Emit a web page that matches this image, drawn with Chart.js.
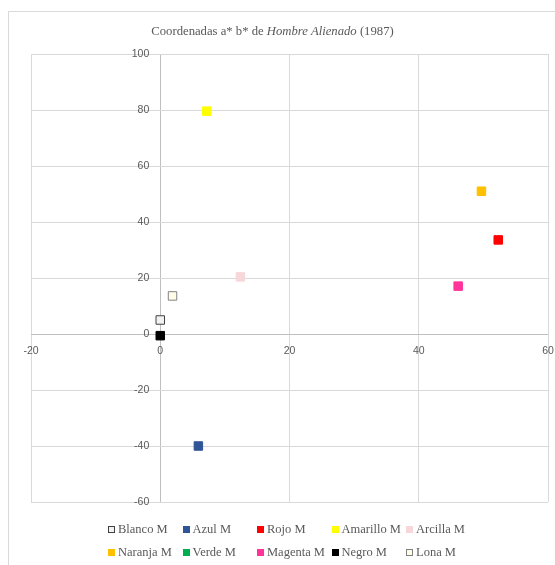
<!DOCTYPE html>
<html><head><meta charset="utf-8">
<script src="https://cdn.jsdelivr.net/npm/chart.js@4/dist/chart.umd.min.js"></script>
<style>
html,body{margin:0;padding:0;background:#fff;}
#wrap{position:relative;width:555px;height:565px;overflow:hidden;}
#frame{position:absolute;left:8px;top:11px;width:600px;height:600px;border:1px solid #D9D9D9;box-sizing:border-box;}
#c{position:absolute;left:0;top:0;}
#title{position:absolute;left:0;top:23px;width:545px;text-align:center;font-family:"Liberation Serif",serif;font-size:12.7px;color:#595959;line-height:16px;white-space:nowrap;}
.leg{position:absolute;display:flex;align-items:center;height:14px;font-family:"Liberation Serif",serif;font-size:12.5px;color:#595959;white-space:nowrap;}
.leg .box{display:inline-block;width:7px;height:7px;box-sizing:border-box;margin-right:3px;border-style:solid;border-width:1px;}
</style>
</head><body>
<div id="wrap">
  <div id="frame"></div>
  <canvas id="c" width="555" height="565"></canvas>
  <div id="title">Coordenadas a* b* de <i>Hombre Alienado</i> (1987)</div>
  <div id="legend"></div>
</div>
<script>
// ---- data ----
const seriesNames = ["Blanco M","Azul M","Rojo M","Amarillo M","Arcilla M","Naranja M","Verde M","Magenta M","Negro M","Lona M"];
const aValues = [0, 5.9, 52.3, 7.2, 12.4, 49.7, null, 46.1, 0, 1.9];
const bValues = [5, -40, 33.6, 79.6, 20.4, 51, null, 17.1, -0.6, 13.6];
const xTicks = [-20, 0, 20, 40, 60];
const yTicks = [-60, -40, -20, 0, 20, 40, 60, 80, 100];

// ---- styles ----
const fillColors = ["#F2F2F2","#2F5597","#FF0000","#FFFF00","#F8D7DA","#FFC000","#00B050","#FF3399","#000000","#FFFDE8"];
const edgeColors = ["#404040","#2F5597","#FF0000","#FFFF00","#F8D7DA","#FFC000","#00B050","#FF3399","#000000","#808080"];

const datasets = seriesNames.map((n, i) => ({
  label: n,
  data: (aValues[i] === null) ? [] : [{x: aValues[i], y: bValues[i]}],
  pointStyle: 'rect',
  pointRadius: 6,
  pointHoverRadius: 6,
  backgroundColor: fillColors[i],
  borderColor: edgeColors[i],
  borderWidth: 1
}));

const tickFont = {family: '"Liberation Sans", sans-serif', size: 10.5};

new Chart(document.getElementById('c'), {
  type: 'scatter',
  data: {datasets},
  options: {
    responsive: false,
    animation: false,
    devicePixelRatio: 1,
    layout: {padding: {left: 31, top: 54, right: 6, bottom: 63}},
    plugins: {legend: {display: false}, tooltip: {enabled: false}, title: {display: false}},
    scales: {
      x: {
        type: 'linear',
        min: xTicks[0], max: xTicks[xTicks.length - 1],
        position: {y: -3.9},
        afterBuildTicks: s => { s.ticks = xTicks.map(v => ({value: v})); },
        grid: {color: ctx => ctx.tick && ctx.tick.value === 0 ? '#BFBFBF' : '#D9D9D9', drawTicks: false, lineWidth: 1},
        border: {display: false},
        ticks: {color: '#595959', font: tickFont, padding: 0, maxRotation: 0, autoSkip: false}
      },
      y: {
        type: 'linear',
        min: yTicks[0], max: yTicks[yTicks.length - 1],
        position: {x: -1.7},
        afterBuildTicks: s => { s.ticks = yTicks.map(v => ({value: v})); },
        grid: {color: ctx => ctx.tick && ctx.tick.value === 0 ? '#BFBFBF' : '#D9D9D9', drawTicks: false, lineWidth: 1},
        border: {display: false},
        ticks: {color: '#595959', font: tickFont, padding: 0, autoSkip: false}
      }
    }
  }
});

// ---- HTML legend (real text) ----
const leg = document.getElementById('legend');
seriesNames.forEach((n, i) => {
  const col = i % 5, row = Math.floor(i / 5);
  const d = document.createElement('div');
  d.className = 'leg';
  d.style.left = (108 + col * 74.5) + 'px';
  d.style.top = (522 + row * 23.5) + 'px';
  const b = document.createElement('span');
  b.className = 'box';
  b.style.background = fillColors[i];
  b.style.borderColor = edgeColors[i];
  d.appendChild(b);
  d.appendChild(document.createTextNode(n));
  leg.appendChild(d);
});
</script>
</body></html>
